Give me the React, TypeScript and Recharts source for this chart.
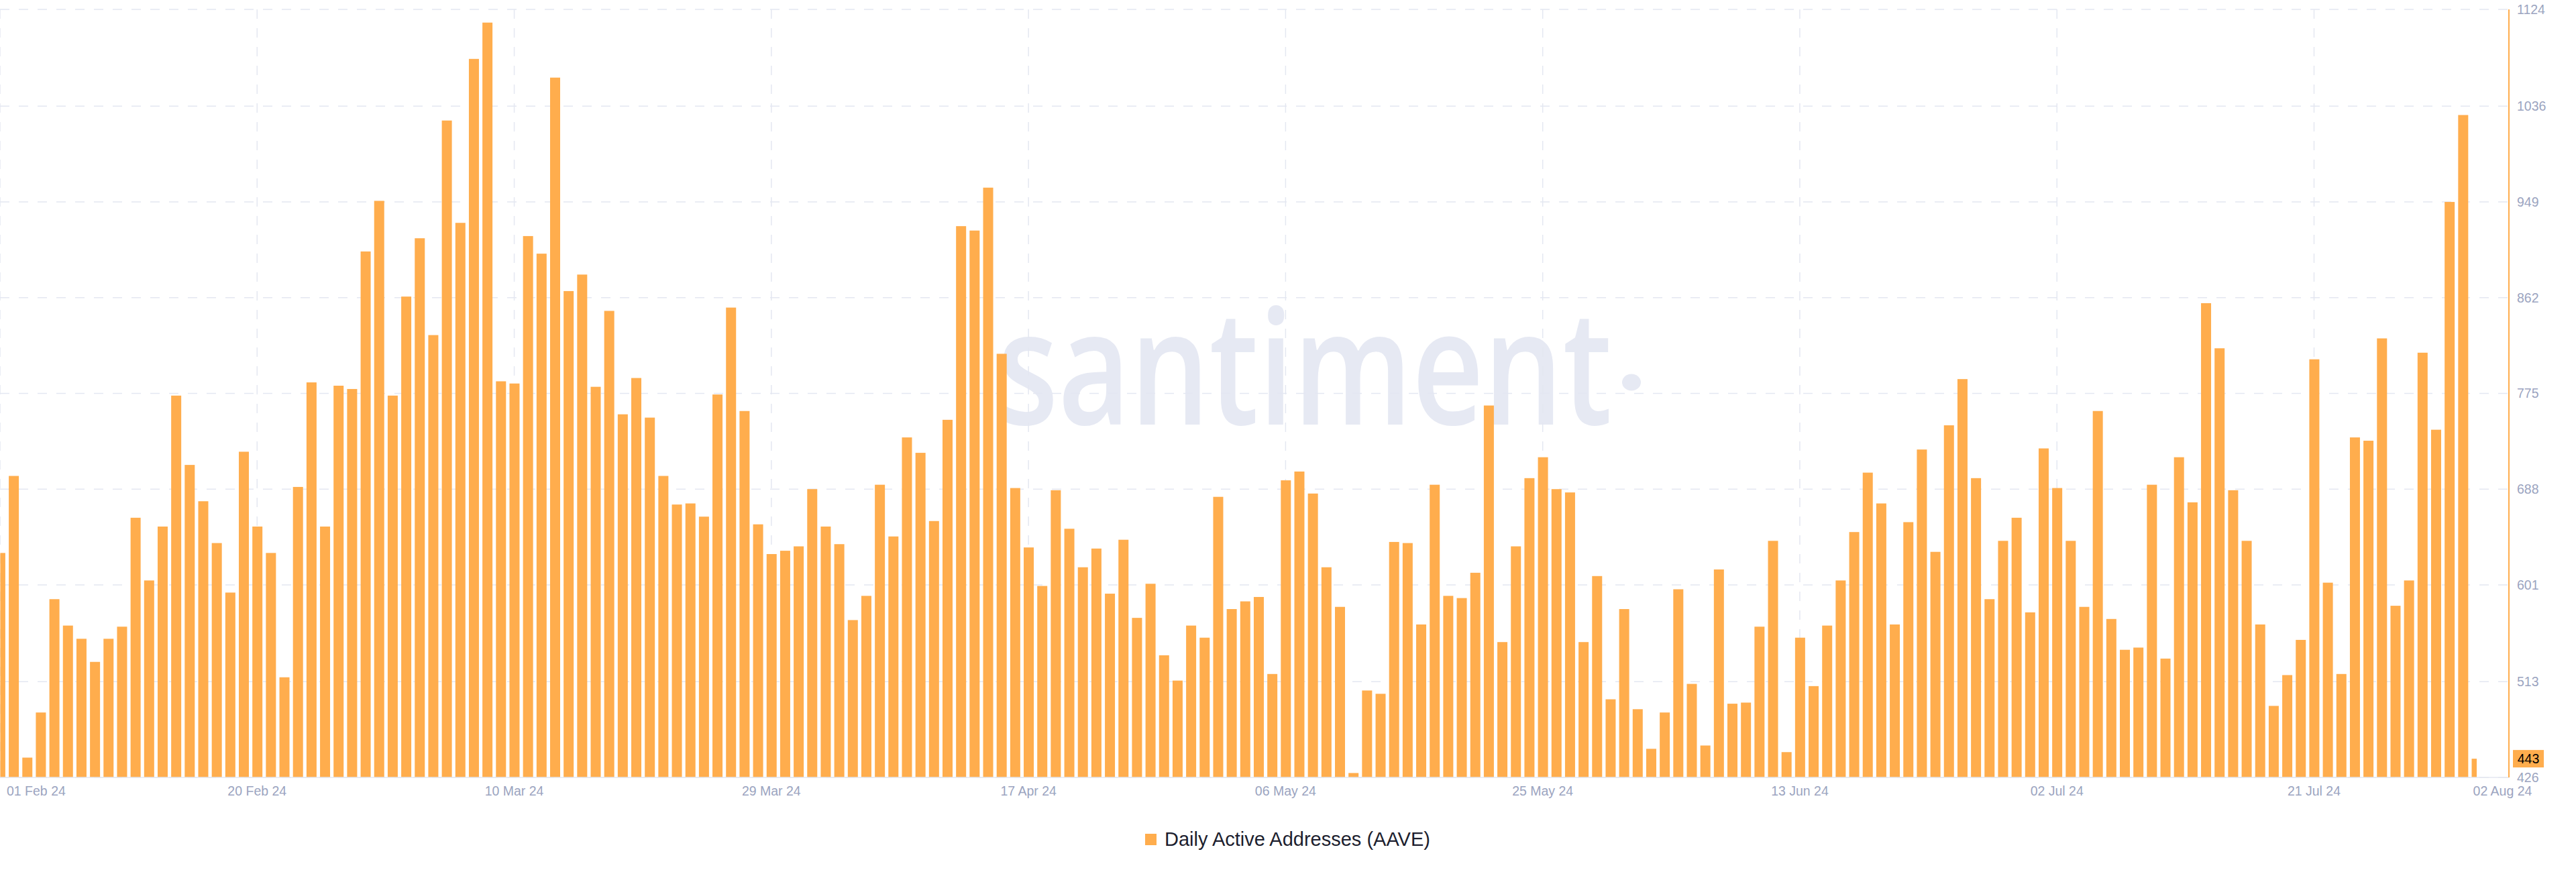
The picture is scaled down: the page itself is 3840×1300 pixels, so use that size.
import { BarChart, Bar, XAxis, YAxis, CartesianGrid, ReferenceLine } from 'recharts';

// daily active addresses for AAVE, one value per day starting 01 Feb 2024
const activeAddresses = [
  630, 700, 444, 485, 588, 564, 552, 531, 552, 563,
  662, 605, 654, 773, 710, 677, 639, 594, 722, 654,
  630, 517, 690, 785, 654, 782, 779, 904, 950, 773,
  863, 916, 828, 1023, 930, 1079, 1112, 786, 784, 918,
  902, 1062, 868, 883, 781, 850, 756, 789, 753, 700,
  674, 675, 663, 774, 853, 759, 656, 629, 632, 636,
  688, 654, 638, 569, 591, 692, 645, 735, 721, 659,
  751, 927, 923, 962, 811, 689, 635, 600, 687, 652,
  617, 634, 593, 642, 571, 602, 537, 514, 564, 553,
  681, 579, 586, 590, 520, 696, 704, 684, 617, 581,
  430, 505, 502, 640, 639, 565, 692, 591, 589, 612,
  764, 549, 636, 698, 717, 688, 685, 549, 609, 497,
  579, 488, 452, 485, 597, 511, 455, 615, 493, 494,
  563, 641, 449, 553, 509, 564, 605, 649, 703, 675,
  565, 658, 724, 631, 746, 788, 698, 588, 641, 662,
  576, 725, 689, 641, 581, 759, 570, 542, 544, 692,
  534, 717, 676, 857, 816, 687, 641, 565, 491, 519,
  551, 806, 603, 520, 735, 732, 825, 582, 605, 812,
  742, 949, 1028, 443,
];

// day offsets (from 01 Feb 24) that carry a date label
const tickDays = [0, 19, 38, 57, 76, 95, 114, 133, 152, 171, 183];
const tickLabels = [
  '01 Feb 24', '20 Feb 24', '10 Mar 24', '29 Mar 24', '17 Apr 24', '06 May 24',
  '25 May 24', '13 Jun 24', '02 Jul 24', '21 Jul 24', '02 Aug 24',
];
// the last label has no grid line
const gridDays = tickDays.slice(0, -1);

const yTicks = [426, 513, 601, 688, 775, 862, 949, 1036, 1124];

const data = activeAddresses.map((value, day) => ({ day, value }));
const lastDay = data.length - 1;
const lastValue = activeAddresses[lastDay];

const X_MAX = 185.4;
const ORANGE = '#FFAD4D';
const MUTED = '#9BA4C0';
const GRID = '#E4E7F1';

function DayBar(props: any) {
  const { x, y, width, height } = props;
  const day = props.payload ? props.payload.day : props.day;
  if (height == null || height <= 0) return null;
  let left = x;
  let w = width;
  // first and last bars are cut at their centre, like the source chart
  if (day === 0) {
    left = x + width / 2;
    w = width / 2;
  } else if (day === lastDay) {
    w = width / 2;
  }
  return <rect x={left} y={y} width={w} height={height} fill={ORANGE} />;
}

function DateTick(props: any) {
  const { x, y, payload } = props;
  const pos = tickDays.indexOf(payload.value);
  const label = tickLabels[pos];
  let anchor: 'start' | 'middle' = 'middle';
  let tx = x;
  if (pos === 0) {
    anchor = 'start';
    tx = x + 10;
  } else if (pos === tickDays.length - 1) {
    anchor = 'start';
    tx = x - 5;
  }
  return (
    <text x={tx} y={y} dy="0.71em" textAnchor={anchor} fill={MUTED} fontSize={19.5} fontFamily="Liberation Sans, Arial, sans-serif">
      {label}
    </text>
  );
}

function LastValueTag(props: any) {
  const vb = props.viewBox || {};
  const x = vb.x + vb.width + 6;
  const y = vb.y;
  return (
    <g>
      <rect x={x} y={y - 13} width={46} height={26} fill={ORANGE} />
      <text x={x + 23} y={y} dy="0.36em" textAnchor="middle" fill="#000" fontSize={19.5} fontFamily="Liberation Sans, Arial, sans-serif">
        {lastValue}
      </text>
    </g>
  );
}

export default function App() {
  return (
    <div style={{ position: 'absolute', left: 0, top: 0, width: 3840, height: 1300, background: '#fff', overflow: 'hidden' }}>
      <svg width={3840} height={1300} style={{ position: 'absolute', left: 0, top: 0 }}>
        <text
          x={1487}
          y={633}
          fontFamily="Open Sans, sans-serif"
          fontWeight={600}
          fontSize={238}
          fill="#E6E9F3"
          textLength={916}
          lengthAdjust="spacingAndGlyphs"
        >
          santiment
        </text>
        <ellipse cx={2432} cy={570} rx={14} ry={12.5} fill="#E6E9F3" />
      </svg>

      <div style={{ position: 'absolute', left: 0, top: 0 }}>
        <BarChart width={3840} height={1210} data={data} margin={{ top: 14, right: 0, bottom: 21, left: 0 }}>
          <CartesianGrid
            stroke={GRID}
            strokeWidth={1.5}
            strokeDasharray="14 14"
            verticalCoordinatesGenerator={(args: any) => {
              const left = args && args.offset && args.offset.left != null ? args.offset.left : 0;
              const w = args && args.offset && args.offset.width != null ? args.offset.width : 3740;
              return gridDays.map((d) => left + (d * w) / X_MAX);
            }}
          />
          <XAxis
            type="number"
            dataKey="day"
            domain={[0, X_MAX]}
            allowDataOverflow
            ticks={tickDays}
            interval={0}
            height={30}
            tickLine={false}
            tickMargin={7}
            axisLine={{ stroke: GRID, strokeWidth: 1.5 }}
            tick={<DateTick />}
          />
          <YAxis
            orientation="right"
            type="number"
            domain={[426, 1124]}
            allowDataOverflow
            ticks={yTicks}
            interval={0}
            width={100}
            tickLine={false}
            tickMargin={6}
            axisLine={{ stroke: ORANGE, strokeWidth: 2 }}
            tick={{ fill: MUTED, fontSize: 19.5, fontFamily: 'Liberation Sans, Arial, sans-serif', textAnchor: 'start' }}
          />
          <ReferenceLine y={lastValue} stroke="none" label={<LastValueTag />} />
          <Bar dataKey="value" barSize={15} fill={ORANGE} shape={<DayBar />} isAnimationActive={false} />
        </BarChart>
      </div>

      <div
        style={{
          position: 'absolute',
          left: 1707,
          top: 1234,
          height: 34,
          display: 'flex',
          alignItems: 'center',
          fontFamily: 'Liberation Sans, Arial, sans-serif',
          fontSize: 29,
          color: '#1C1E2E',
          whiteSpace: 'nowrap',
        }}
      >
        <span style={{ display: 'inline-block', width: 17, height: 17, background: ORANGE, marginRight: 12 }} />
        Daily Active Addresses (AAVE)
      </div>
    </div>
  );
}
